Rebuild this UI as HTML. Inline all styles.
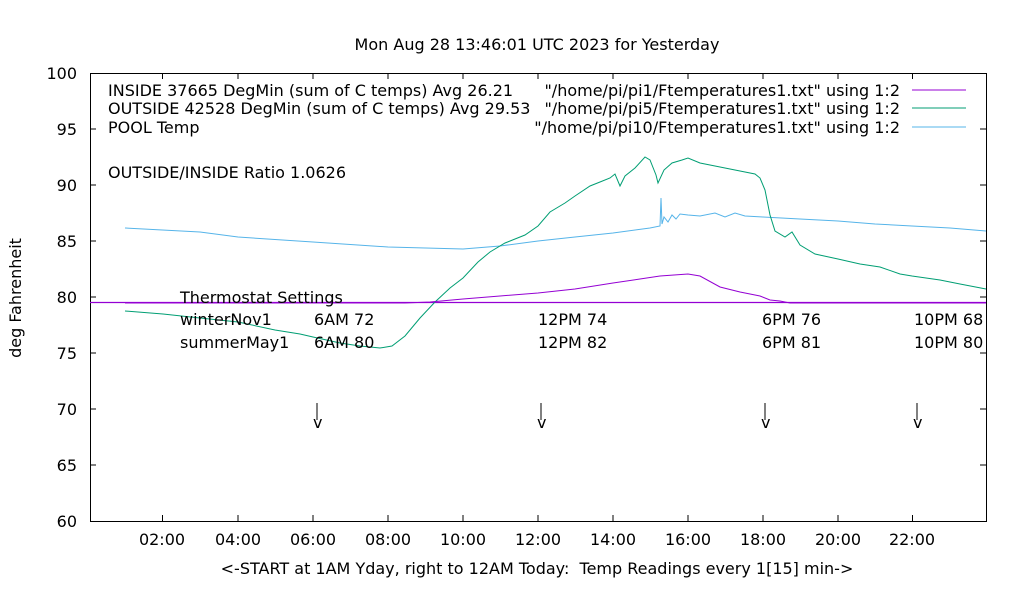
<!DOCTYPE html><html><head><style>body{margin:0;background:#fff}svg text{font-family:"DejaVu Sans","Liberation Sans",sans-serif;font-size:16px;fill:#000;white-space:pre}</style></head><body>
<svg width="1020" height="600" xmlns="http://www.w3.org/2000/svg">
<rect width="1020" height="600" fill="#fff"/>
<text x="537" y="50" text-anchor="middle">Mon Aug 28 13:46:01 UTC 2023 for Yesterday</text>
<rect x="90.5" y="73.5" width="896" height="448" fill="none" stroke="#000"/>
<g stroke="#000">
<path d="M90 129h6M90 185h6M90 241h6M90 297h6M90 353h6M90 409h6M90 465h6M980 129h6M980 185h6M980 241h6M980 297h6M980 353h6M980 409h6M980 465h6"/>
<path d="M162.5 521v-6M238 521v-6M313 521v-6M388 521v-6M463 521v-6M538 521v-6M613 521v-6M688 521v-6M763 521v-6M838 521v-6M912.5 521v-6M162.5 73v6M238 73v6M313 73v6M388 73v6M463 73v6M538 73v6M613 73v6M688 73v6M763 73v6M838 73v6M912.5 73v6"/>
</g>
<g text-anchor="end">
<text x="77" y="79">100</text><text x="77" y="135">95</text><text x="77" y="191">90</text><text x="77" y="247">85</text><text x="77" y="303">80</text><text x="77" y="359">75</text><text x="77" y="415">70</text><text x="77" y="471">65</text><text x="77" y="527">60</text>
</g>
<g text-anchor="middle">
<text x="162" y="545">02:00</text><text x="238" y="545">04:00</text><text x="313" y="545">06:00</text><text x="388" y="545">08:00</text><text x="463" y="545">10:00</text><text x="538" y="545">12:00</text><text x="613" y="545">14:00</text><text x="688" y="545">16:00</text><text x="763" y="545">18:00</text><text x="838" y="545">20:00</text><text x="912" y="545">22:00</text>
<text x="537" y="574">&lt;-START at 1AM Yday, right to 12AM Today:  Temp Readings every 1[15] min-&gt;</text>
</g>
<text transform="translate(21,298) rotate(-90)" text-anchor="middle">deg Fahrenheit</text>
<text x="108" y="96">INSIDE 37665 DegMin (sum of C temps) Avg 26.21</text>
<text x="108" y="114">OUTSIDE 42528 DegMin (sum of C temps) Avg 29.53</text>
<text x="108" y="133">POOL Temp</text>
<g text-anchor="end"><text x="900" y="96">"/home/pi/pi1/Ftemperatures1.txt" using 1:2</text><text x="900" y="114">"/home/pi/pi5/Ftemperatures1.txt" using 1:2</text><text x="900" y="133">"/home/pi/pi10/Ftemperatures1.txt" using 1:2</text></g>
<path d="M912 90h54" stroke="#9400d3"/><path d="M912 108h54" stroke="#009e73"/><path d="M912 127h54" stroke="#56b4e9"/>
<text x="108" y="178">OUTSIDE/INSIDE Ratio 1.0626</text>
<path d="M90 302.5h896" stroke="#9400d3" stroke-width="1.2"/>
<polyline fill="none" stroke="#56b4e9" points="125,228 200,232 238,237 313,242 388,247 463,249 500,246 538,241 575,237 613,233 650,228 660,226 661,198 662,224 664,217 668,222 672,215 676,219 680,214 688,215 700,216 715,213 725,217 735,213 745,216 763,217 800,219 838,221 875,224 912,226 950,228 986,231"/>
<polyline fill="none" stroke="#009e73" points="125,311 163,314 200,318 238,322 275,330 300,334 313,337 340,343 360,346 380,348 392,346 405,336 420,318 435,302 450,288 463,278 478,262 490,252 505,243 525,235 538,226 550,212 565,203 575,196 590,186 600,182 610,178 615,174 620,186 625,176 635,168 645,157 650,160 656,175 658,183 664,170 672,163 682,160 688,158 700,163 720,167 740,171 755,174 760,178 765,190 770,215 775,231 785,237 792,232 800,245 815,254 838,259 860,264 880,267 900,274 912,276 940,280 960,284 986,289"/>
<polyline fill="none" stroke="#9400d3" points="125,303 388,303 405,303 430,302 463,299 500,296 538,293 575,289 613,283 640,279 660,276 688,274 700,276 720,287 740,292 760,296 770,300 780,301 790,303 986,303"/>
<text x="180" y="303">Thermostat Settings</text>
<text x="180" y="325">winterNov1</text><text x="180" y="348">summerMay1</text>
<text x="314" y="325">6AM 72</text><text x="314" y="348">6AM 80</text>
<text x="538" y="325">12PM 74</text><text x="538" y="348">12PM 82</text>
<text x="762" y="325">6PM 76</text><text x="762" y="348">6PM 81</text>
<text x="914" y="325">10PM 68</text><text x="914" y="348">10PM 80</text>
<g stroke="#000"><path d="M317 403v17M541 403v17M765 403v17M917 403v17"/></g>
<text x="313" y="428">v</text><text x="537" y="428">v</text><text x="761" y="428">v</text><text x="913" y="428">v</text>
</svg></body></html>
